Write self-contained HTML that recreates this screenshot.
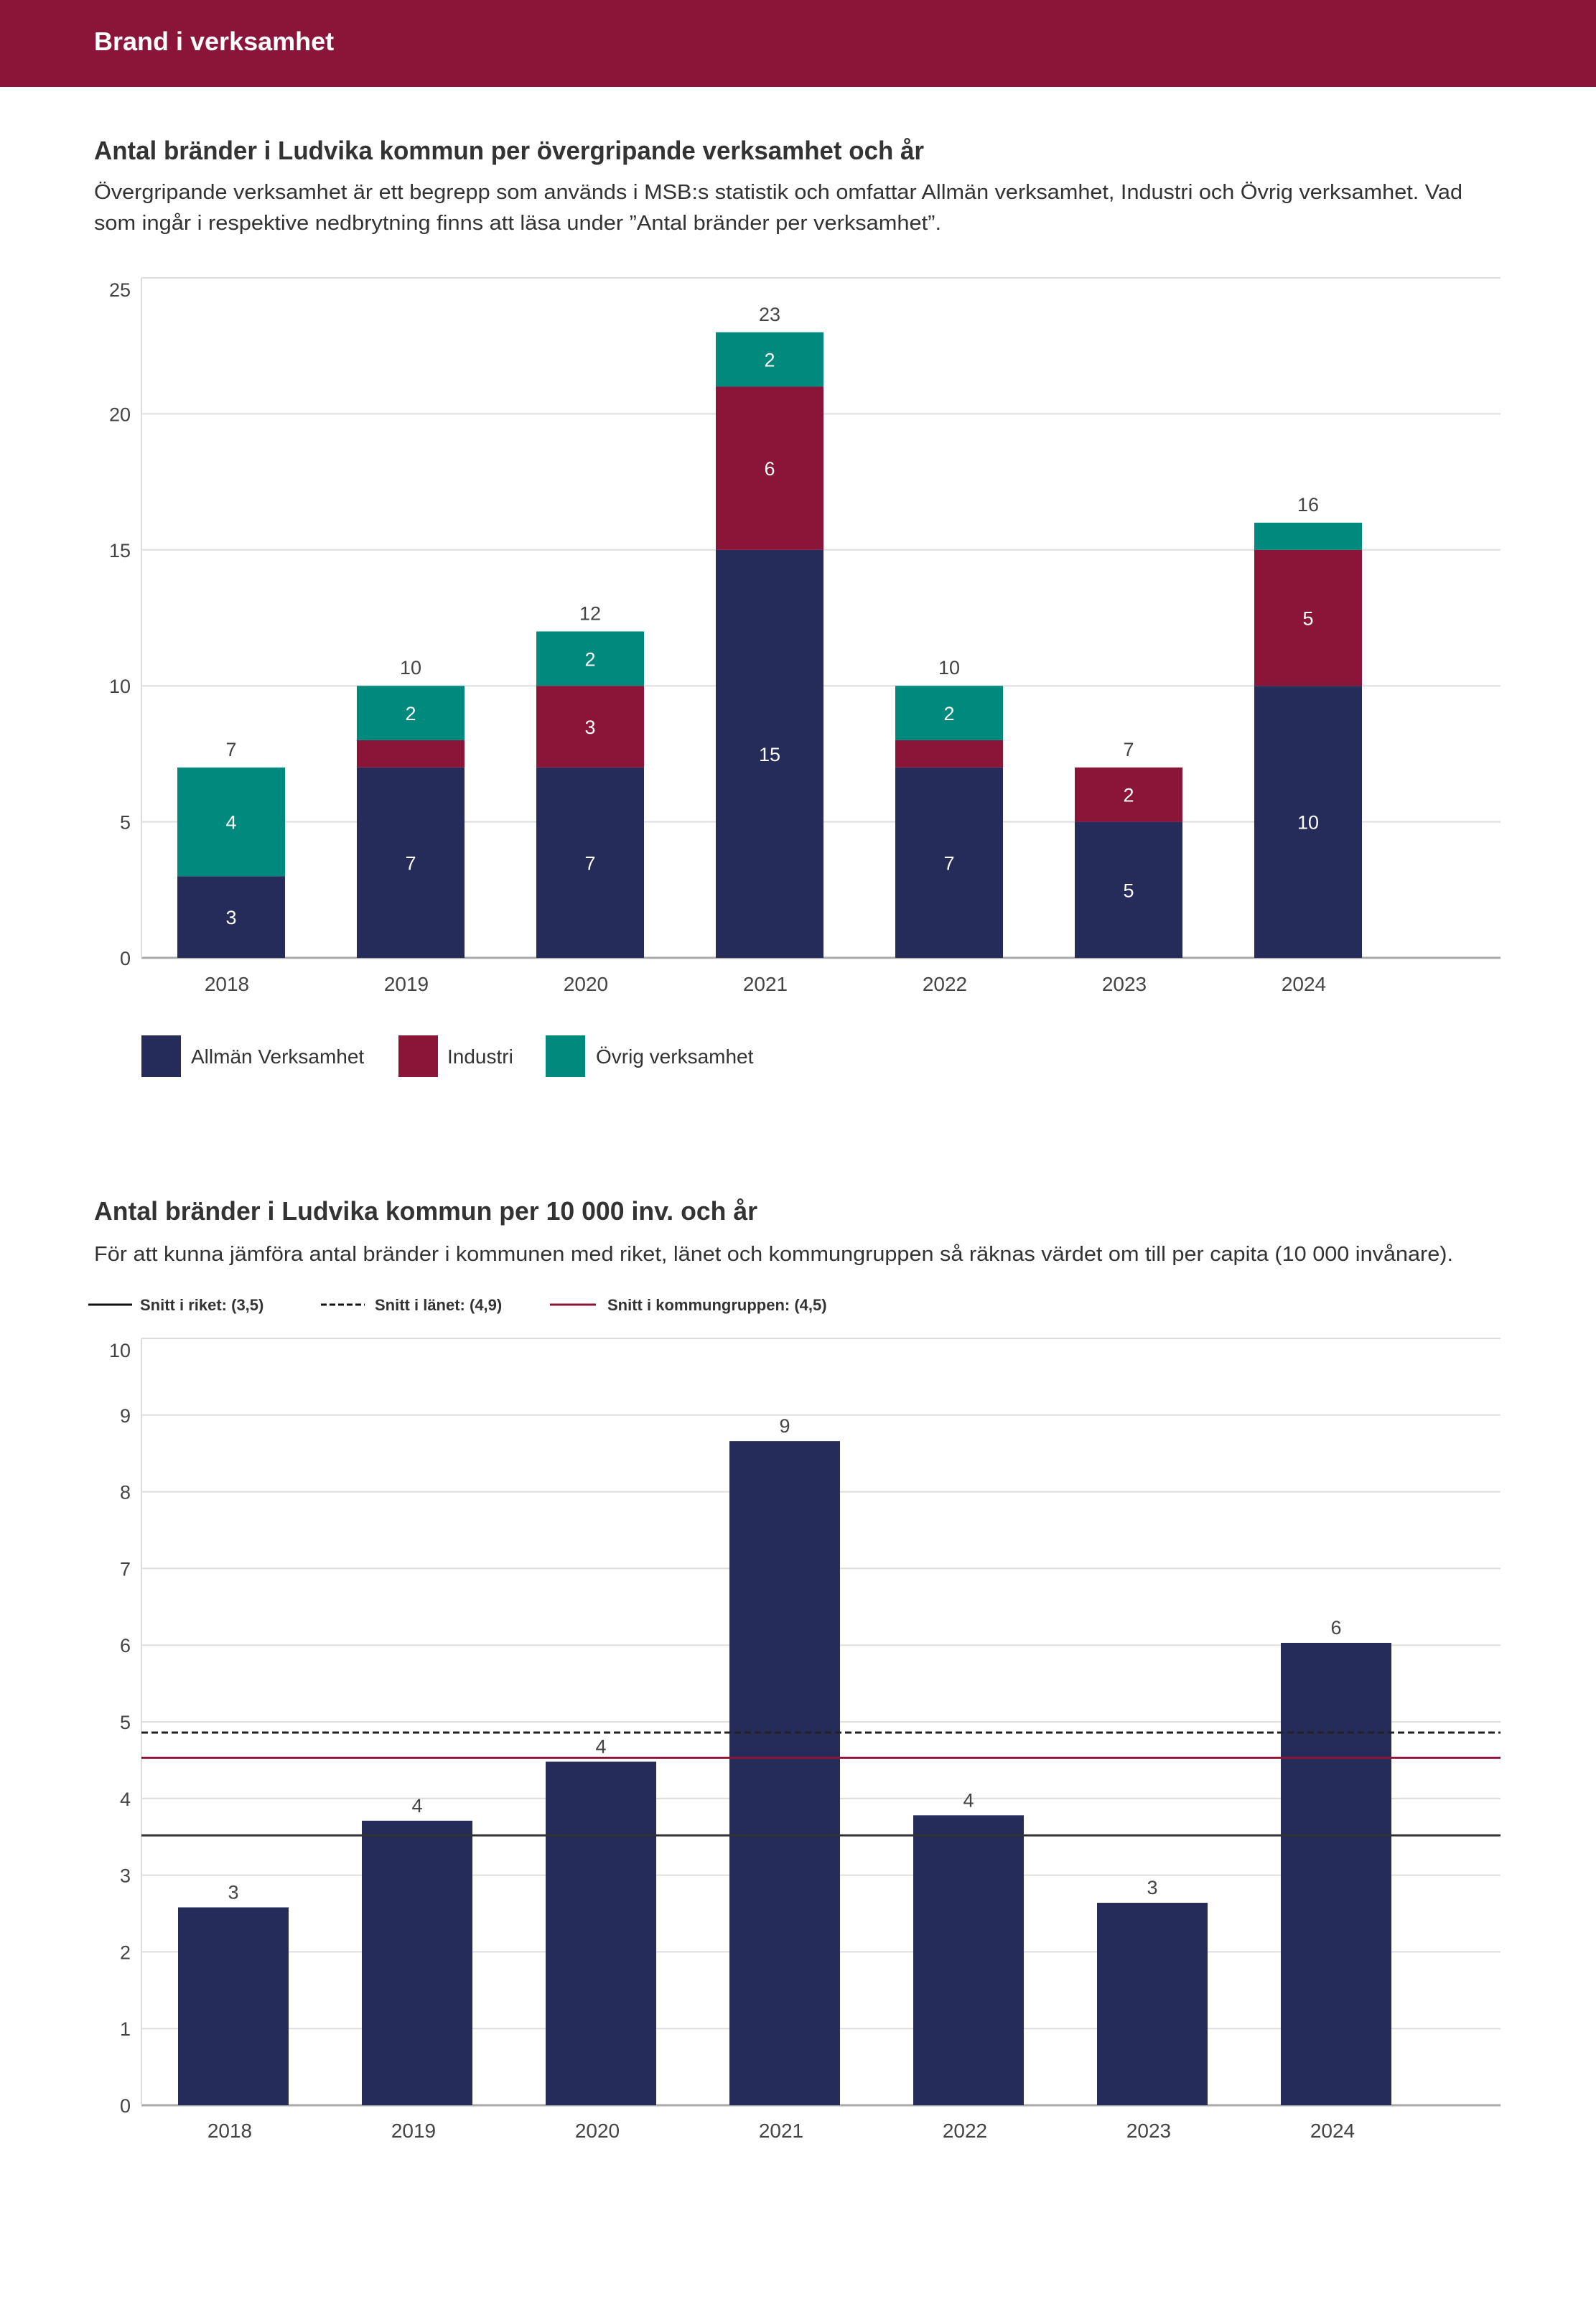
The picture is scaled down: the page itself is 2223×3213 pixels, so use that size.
<!DOCTYPE html>
<html><head><meta charset="utf-8">
<style>
html,body{margin:0;padding:0;background:#fff;}
svg{display:block;font-family:"Liberation Sans Narrow","Liberation Sans",sans-serif;}
</style></head>
<body>
<svg id="page" width="2223" height="3213" viewBox="0 0 2223 3213" xmlns="http://www.w3.org/2000/svg">
<rect x="0" y="0" width="2223" height="121" fill="#8b1538"/>
<text x="131" y="70" font-size="36" font-weight="bold" fill="#fff">Brand i verksamhet</text>

<text x="131" y="222" font-size="36" font-weight="bold" fill="#333" textLength="1156" lengthAdjust="spacingAndGlyphs">Antal bränder i Ludvika kommun per övergripande verksamhet och år</text>
<text x="131" y="277" font-size="29" fill="#333" textLength="1906" lengthAdjust="spacingAndGlyphs">Övergripande verksamhet är ett begrepp som används i MSB:s statistik och omfattar Allmän verksamhet, Industri och Övrig verksamhet. Vad</text>
<text x="131" y="320" font-size="29" fill="#333" textLength="1180" lengthAdjust="spacingAndGlyphs">som ingår i respektive nedbrytning finns att läsa under ”Antal bränder per verksamhet”.</text>
<g id="chart1"></g>

<g>
<rect x="197" y="1442" width="55" height="58" fill="#252c5a"/>
<text x="266" y="1481" font-size="28" fill="#333">Allmän Verksamhet</text>
<rect x="555" y="1442" width="55" height="58" fill="#8b1538"/>
<text x="623" y="1481" font-size="28" fill="#333">Industri</text>
<rect x="760" y="1442" width="55" height="58" fill="#008a7e"/>
<text x="830" y="1481" font-size="28" fill="#333">Övrig verksamhet</text>
</g>

<text x="131" y="1699" font-size="36" font-weight="bold" fill="#333" textLength="924" lengthAdjust="spacingAndGlyphs">Antal bränder i Ludvika kommun per 10 000 inv. och år</text>
<text x="131" y="1756" font-size="29" fill="#333" textLength="1893" lengthAdjust="spacingAndGlyphs">För att kunna jämföra antal bränder i kommunen med riket, länet och kommungruppen så räknas värdet om till per capita (10 000 invånare).</text>

<g>
<line x1="123" y1="1817" x2="184" y2="1817" stroke="#111" stroke-width="3"/>
<text x="195" y="1825" font-size="22" font-weight="bold" fill="#333">Snitt i riket: (3,5)</text>
<line x1="447" y1="1817" x2="508" y2="1817" stroke="#111" stroke-width="3" stroke-dasharray="8,4"/>
<text x="522" y="1825" font-size="22" font-weight="bold" fill="#333">Snitt i länet: (4,9)</text>
<line x1="766" y1="1817" x2="830" y2="1817" stroke="#8b1538" stroke-width="3"/>
<text x="846" y="1825" font-size="22" font-weight="bold" fill="#333">Snitt i kommungruppen: (4,5)</text>
</g>
<g id="chart2"></g>
</svg>

<script>
const years = ["2018","2019","2020","2021","2022","2023","2024"];
const allman = [3,7,7,15,7,5,10];
const industri = [0,1,3,6,1,2,5];
const ovrig = [4,2,2,2,2,0,1];
const ticks1 = [0,5,10,15,20,25];

const perCapita = [2.58,3.71,4.48,8.66,3.78,2.64,6.03];
const perCapitaLabels = ["3","4","4","9","4","3","6"];
const ticks2 = [0,1,2,3,4,5,6,7,8,9,10];
const avgRiket = 3.52;
const avgLanet = 4.86;
const avgKommungrupp = 4.53;

const NS = "http://www.w3.org/2000/svg";
function mk(tag, attrs, parent, text){
  const e = document.createElementNS(NS, tag);
  for (const k in attrs) e.setAttribute(k, attrs[k]);
  if (text !== undefined) e.textContent = text;
  parent.appendChild(e);
  return e;
}

// Chart 1
(function(){
  const g = document.getElementById('chart1');
  const L = 197, R = 2090, Y0 = 1334, Ytop = 387, max = 25, band = 250, bw = 150;
  const y = v => Y0 - (v / max) * (Y0 - Ytop);
  const xc = i => L + band * i + band / 2;
  ticks1.forEach((t, k) => {
    const ln = mk('line', {x1:L, x2:R, y1:y(t), y2:y(t), stroke: t===0 ? '#aaa' : '#ddd', 'stroke-width': t===0 ? 3 : 2}, g);
    
    
    const off = (k === ticks1.length - 1) ? 26 : 10;
    const tx = mk('text', {x:182, y:y(t)+off, 'font-size':27, fill:'#444', 'text-anchor':'end'}, g, String(t));
    
    
  });
  const ax = mk('line', {x1:L, x2:L, y1:Ytop, y2:Y0, stroke:'#ddd', 'stroke-width':2}, g);
  
  
  const series = [[allman,'#252c5a','allman'],[industri,'#8b1538','industri'],[ovrig,'#008a7e','ovrig']];
  years.forEach((yr, i) => {
    let base = 0;
    series.forEach(([arr, col, nm]) => {
      const v = arr[i];
      if (v > 0) {
        const r = mk('rect', {x:xc(i)-bw/2, y:y(base+v), width:bw, height:y(base)-y(base+v), fill:col}, g);
        
        
        if (v >= 2) {
          const t = mk('text', {x:xc(i), y:(y(base)+y(base+v))/2+10, 'font-size':27, fill:'#fff', 'text-anchor':'middle'}, g, String(v));
          
          
        }
      }
      base += v;
    });
    const tot = mk('text', {x:xc(i), y:y(base)-16, 'font-size':27, fill:'#444', 'text-anchor':'middle'}, g, String(base));
    
    
    const xl = mk('text', {x:xc(i)-6, y:1380, 'font-size':28, fill:'#444', 'text-anchor':'middle'}, g, yr);
    
    
  });
})();

// Chart 2
(function(){
  const g = document.getElementById('chart2');
  const L = 197, R = 2090, Y0 = 2932, Ytop = 1864, max = 10, band = 256, bw = 154;
  const y = v => Y0 - (v / max) * (Y0 - Ytop);
  const xc = i => L + band * i + band / 2;
  ticks2.forEach((t, k) => {
    const ln = mk('line', {x1:L, x2:R, y1:y(t), y2:y(t), stroke: t===0 ? '#aaa' : '#ddd', 'stroke-width': t===0 ? 3 : 2}, g);
    
    
    const off = (k === ticks2.length - 1) ? 26 : 10;
    const tx = mk('text', {x:182, y:y(t)+off, 'font-size':27, fill:'#444', 'text-anchor':'end'}, g, String(t));
    
    
  });
  const ax = mk('line', {x1:L, x2:L, y1:Ytop, y2:Y0, stroke:'#ddd', 'stroke-width':2}, g);
  
  
  years.forEach((yr, i) => {
    const v = perCapita[i];
    const r = mk('rect', {x:xc(i)-bw/2, y:y(v), width:bw, height:Y0-y(v), fill:'#252c5a'}, g);
    
    
    const t = mk('text', {x:xc(i), y:y(v)-12, 'font-size':27, fill:'#444', 'text-anchor':'middle'}, g, perCapitaLabels[i]);
    
    
    const xl = mk('text', {x:xc(i)-5, y:2977, 'font-size':28, fill:'#444', 'text-anchor':'middle'}, g, yr);
    
    
  });
  const l1 = mk('line', {x1:L, x2:R, y1:y(avgLanet), y2:y(avgLanet), stroke:'#222', 'stroke-width':3, 'stroke-dasharray':'9,5'}, g);
  
  
  const l2 = mk('line', {x1:L, x2:R, y1:y(avgKommungrupp), y2:y(avgKommungrupp), stroke:'#8b1538', 'stroke-width':3}, g);
  
  
  const l3 = mk('line', {x1:L, x2:R, y1:y(avgRiket), y2:y(avgRiket), stroke:'#333', 'stroke-width':3}, g);
  
  
})();
</script>
</body></html>
